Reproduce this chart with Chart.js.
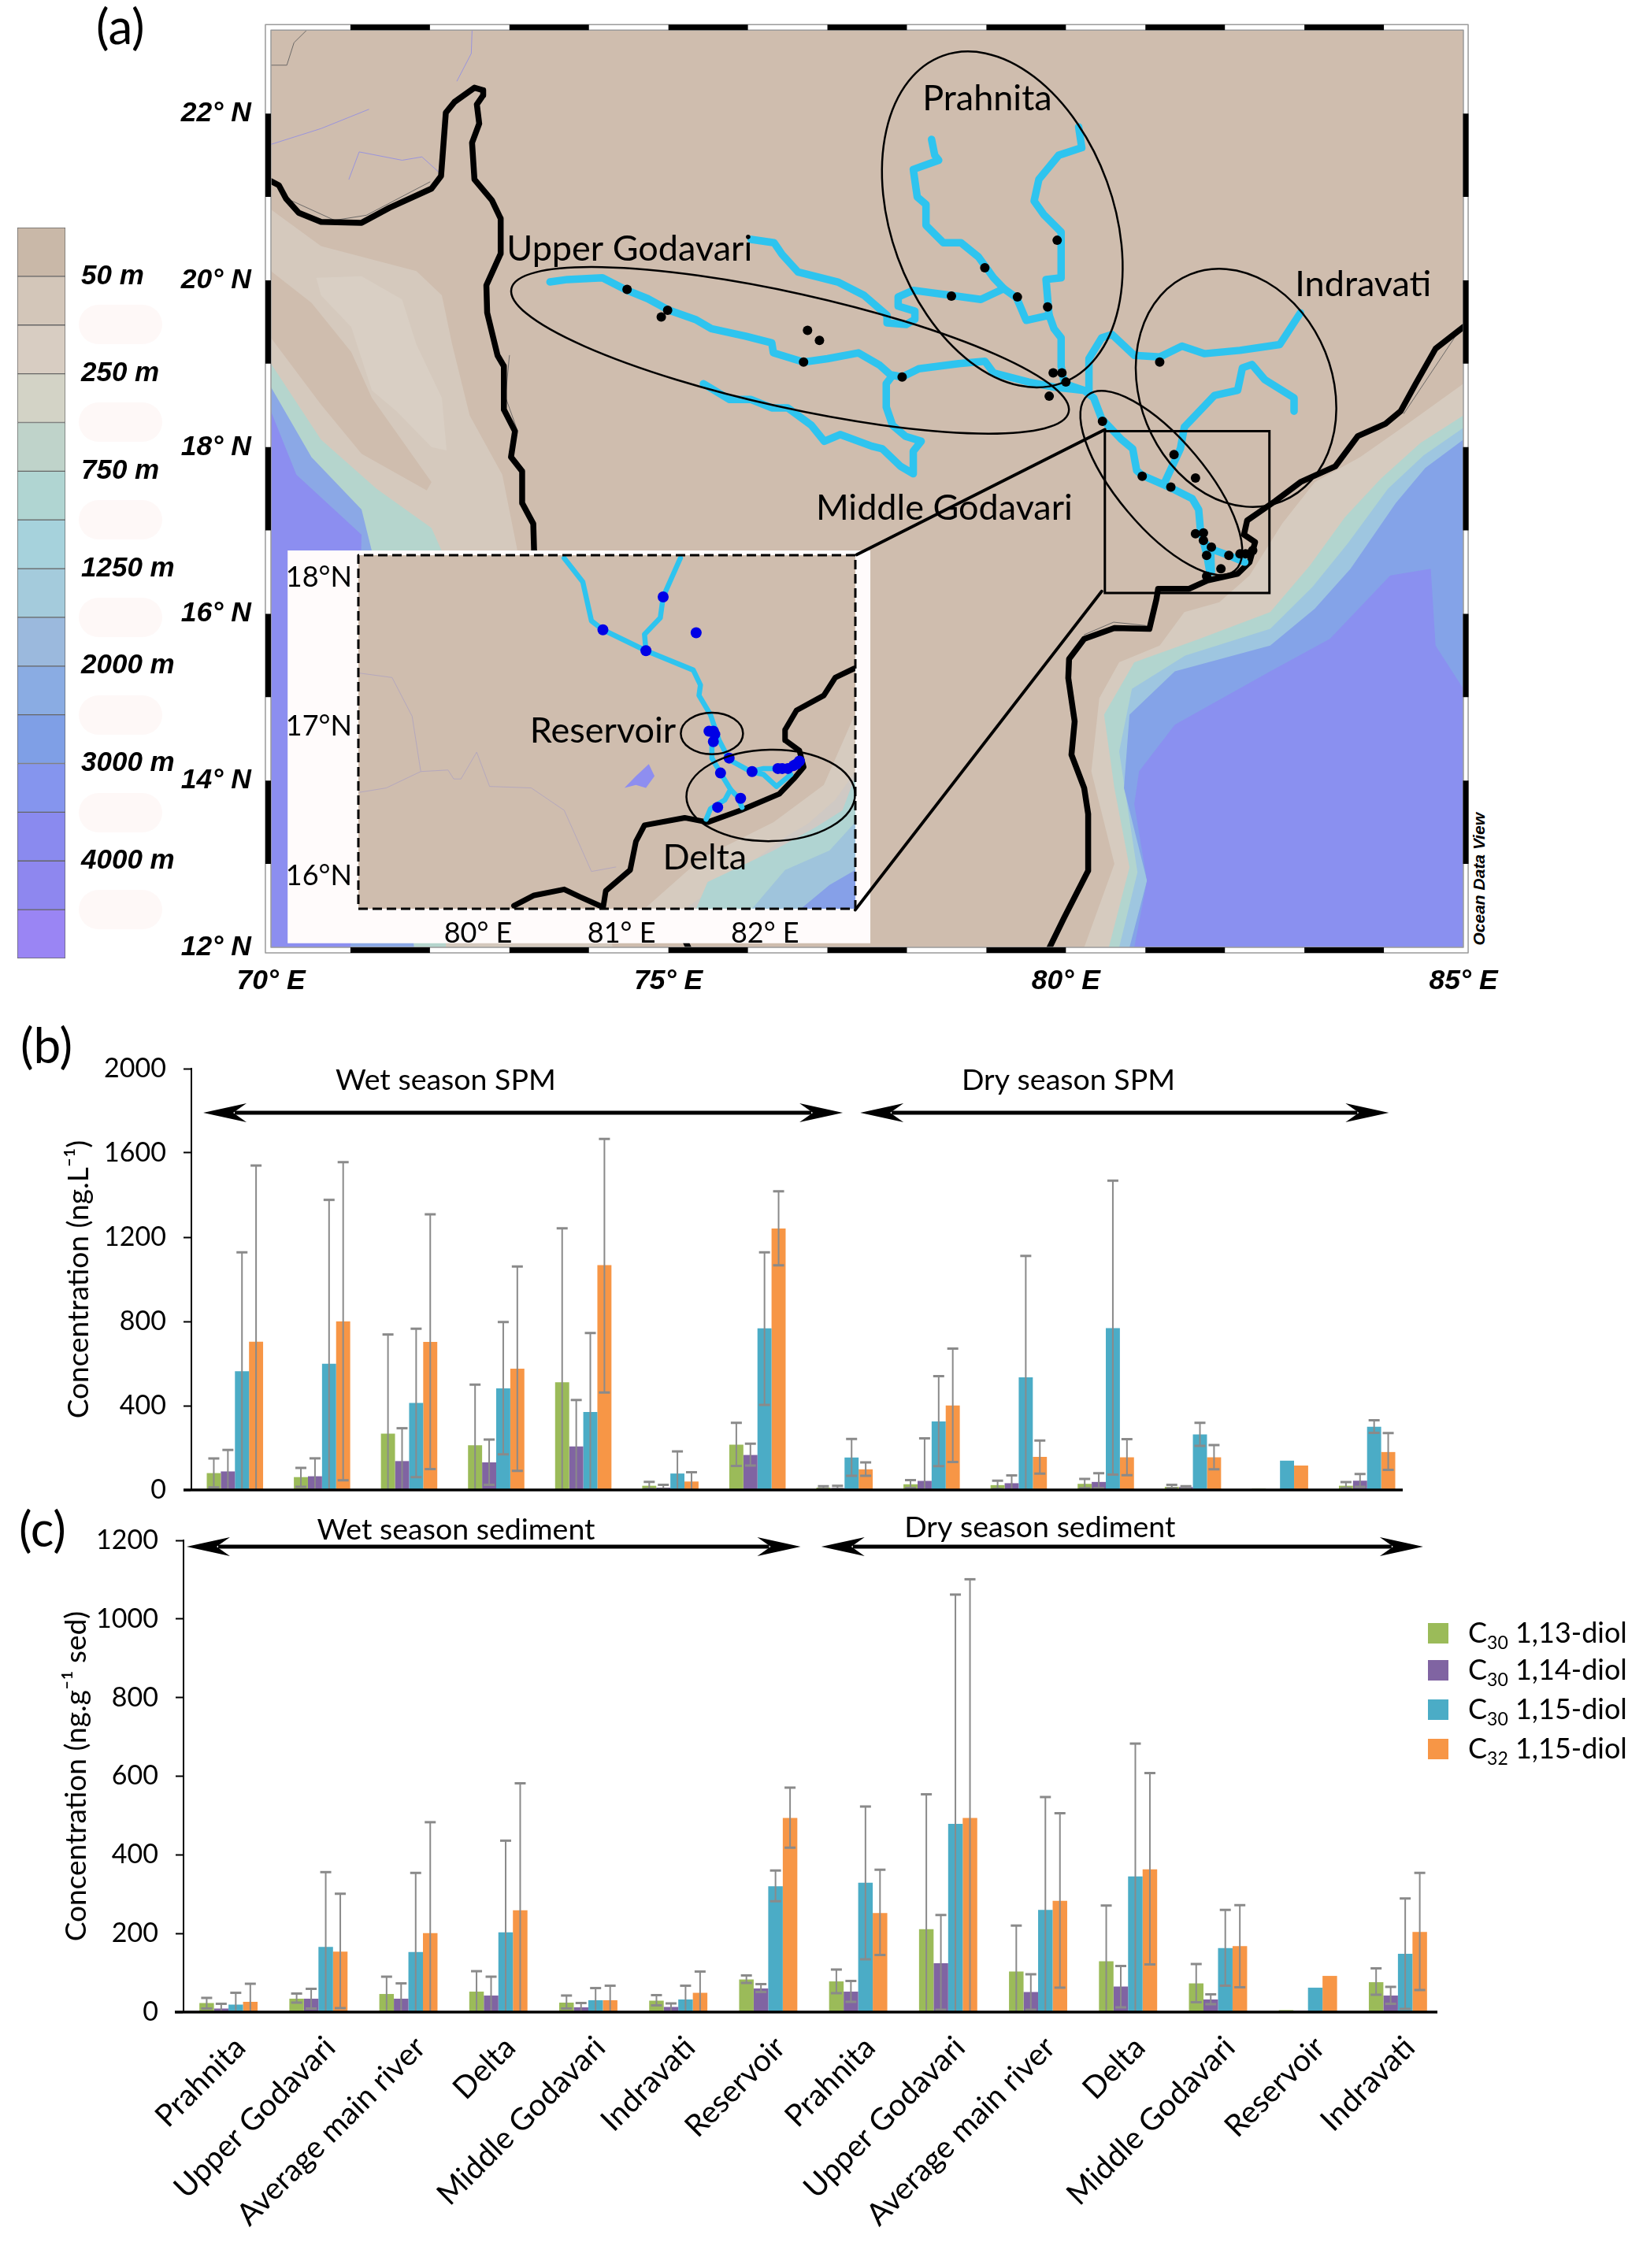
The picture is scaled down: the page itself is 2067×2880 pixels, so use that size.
<!DOCTYPE html>
<html>
<head>
<meta charset="utf-8">
<title>Diols in the Godavari basin</title>
<script src="https://cdn.jsdelivr.net/npm/chart.js@4/dist/chart.umd.min.js"></script>
<style>
  body { margin: 0; background: #fff; }
  #page { position: relative; width: 2067px; height: 2880px; overflow: hidden; font-family: Lato, sans-serif; color: #000; }
  #page canvas { position: absolute; }
  .panel { position: absolute; font-size: 62px; line-height: 62px; }
  .blob { position: absolute; left: 100px; width: 106px; height: 50px; border-radius: 25px; background: #fef8f7; }
  #odv { position: absolute; left: 1790px; top: 1101px; width: 175px; font: italic bold 21px "Liberation Sans", sans-serif; transform: rotate(-90deg); white-space: nowrap; text-align: left; }
  .leg { position: absolute; left: 1813px; white-space: nowrap; font-size: 36px; line-height: 44px; }
  .leg i { display: inline-block; width: 26px; height: 26px; margin-right: 25px; vertical-align: -1px; }
  .leg sub { font-size: 23px; line-height: 0; }
</style>
</head>
<body>
<div id="page">
  <div class="panel" style="left:122px;top:1px">(a)</div>
  <div class="panel" style="left:26px;top:1295px">(b)</div>
  <div class="panel" style="left:24px;top:1909px">(c)</div>
  <div id="odv">Ocean Data View</div>
  <canvas id="mapChart" width="2067" height="1290" style="left:0;top:0"></canvas>
  <canvas id="insetChart" width="740" height="560" style="left:365px;top:659px"></canvas>
  <canvas id="depthChart" width="250" height="1030" style="left:0;top:230px"></canvas>
  <canvas id="spmChart" width="2067" height="660" style="left:0;top:1290px"></canvas>
  <canvas id="sedChart" width="2067" height="980" style="left:0;top:1900px"></canvas>
</div>

<script>
/* ---------- bar data (b) and (c) ---------- */
const CATEGORIES = ['Prahnita', 'Upper Godavari', 'Average main river', 'Delta', 'Middle Godavari', 'Indravati', 'Reservoir',
                    'Prahnita', 'Upper Godavari', 'Average main river', 'Delta', 'Middle Godavari', 'Reservoir', 'Indravati'];

const SERIES_COLORS = ['#9bbb59', '#8064a2', '#4bacc6', '#f79646'];
const LEGEND_CARBON = ['30', '30', '30', '32'];
const LEGEND_DIOL = ['1,13-diol', '1,14-diol', '1,15-diol', '1,15-diol'];

// panel (b), SPM, ng/L
const spm13 = [80, 61, 267, 212, 511, 20, 215, 11, 27, 23, 29, 15, 6, 20];
const spm14 = [88, 65, 137, 131, 207, 11, 166, 9, 43, 32, 38, 14, 3, 44];
const spm15 = [564, 599, 413, 482, 370, 78, 767, 154, 325, 535, 768, 264, 139, 300];
const spm32 = [704, 800, 703, 576, 1067, 40, 1241, 98, 401, 157, 155, 155, 116, 180];
// whisker ends, null = no whisker / runs down to the axis
const spm13Hi = [150, 105, 738, 500, 1242, 38, 319, 18, 47, 44, 52, 24, null, 37];
const spm14Hi = [190, 150, 293, 239, 427, 24, 220, 20, 245, 69, 79, 18, null, 76];
const spm15Hi = [1128, 1377, 765, 797, 745, 183, 1128, 242, 540, 1111, 1468, 319, null, 331];
const spm32Hi = [1540, 1556, 1308, 1061, 1666, 84, 1418, 131, 671, 235, 241, 213, null, 270];
const spm13Lo = [12, 15, null, null, null, 5, 114, 5, 9, 5, 8, 8, null, 8];
const spm14Lo = [null, null, null, 24, null, 5, 116, 5, null, null, 8, 6, null, 15];
const spm15Lo = [null, null, 61, 169, null, null, 404, 67, 113, null, 73, 209, null, 271];
const spm32Lo = [null, 46, 99, 91, 463, null, 1066, 67, 133, 78, 70, 98, null, 95];

// panel (c), sediment, ng/g
const sed13 = [23, 34, 46, 52, 24, 29, 83, 78, 211, 103, 129, 73, 5, 76];
const sed14 = [9, 34, 34, 42, 12, 13, 60, 52, 124, 51, 65, 32, 3, 42];
const sed15 = [19, 166, 153, 203, 30, 32, 320, 329, 479, 260, 345, 163, 62, 148];
const sed32 = [26, 154, 201, 259, 30, 49, 494, 252, 494, 283, 363, 168, 92, 204];
const sed13Hi = [36, 47, 90, 104, 42, 43, 93, 108, 554, 220, 271, 122, null, 111];
const sed14Hi = [21, 59, 73, 90, 23, 22, 71, 79, 247, 96, 117, 45, null, 64];
const sed15Hi = [49, 356, 354, 436, 61, 67, 360, 523, 1062, 547, 683, 260, null, 289];
const sed32Hi = [72, 301, 483, 582, 67, 103, 571, 362, 1101, 506, 608, 272, null, 354];
const sed13Lo = [9, 24, null, null, 9, 17, 74, 48, null, null, null, 25, null, 44];
const sed14Lo = [null, 9, null, null, null, null, 51, 26, 6, 6, 12, 20, null, 21];
const sed15Lo = [null, null, null, null, null, null, 282, 134, null, null, null, 67, null, 8];
const sed32Lo = [null, 10, null, null, null, null, 418, 145, null, 62, 121, 63, null, 56];

/* ---------- depth key ---------- */
const DEPTH_COLORS = ['#c9b8a8', '#d3c6b9', '#d8cdc2', '#d3d3c6', '#bfd3ca', '#b0d5d2', '#a6d2dc', '#a4cbdc',
                      '#9bb9dd', '#8aace3', '#7f9fe6', '#8595ee', '#8a8aef', '#8e87ef', '#9a85f4'];
const DEPTH_LABELS = {1: '50 m', 3: '250 m', 5: '750 m', 7: '1250 m', 9: '2000 m', 11: '3000 m', 13: '4000 m'};

/* ---------- map shapes, all [lon, lat] ---------- */
const LAND = '#cfbdae';
const RIVER = '#2ec4ef';
const landBox = [[70, 12], [85, 12], [85, 23], [70, 23]];

// west coast shelf
const westBeige = [[70, 20.85], [70.63, 20.41], [71.83, 20.11], [72.15, 19.82], [72.28, 19.23], [72.5, 18.38], [72.91, 17.67], [73.1, 16.76], [74.3, 12], [70, 12]];
const westPatch = [[70, 20.11], [70.51, 19.73], [71.01, 19.14], [71.27, 18.59], [72.02, 17.58], [71.96, 17.48], [71.14, 17.92], [70.63, 18.51], [70, 19.31]];
const westLight = [[70.57, 20.03], [71.14, 20.05], [71.65, 19.77], [71.83, 19.23], [72.15, 18.59], [72.21, 17.96], [72.02, 18], [71.58, 18.43], [71.27, 18.68], [71.01, 19.44], [70.63, 19.82]];
const westTeal = [[70, 19], [70.63, 18.09], [71.33, 17.5], [72.02, 17.03], [72.15, 16.75], [72.2, 12], [70, 12]];
const westBlue = [[70, 18.72], [70.51, 17.88], [71.14, 17.25], [71.27, 16.75], [71.8, 12], [70, 12]];
const westDeep = [[70, 18.43], [70.32, 17.67], [71.14, 16.95], [71, 12], [70, 12]];

// east coast shelf
const eastBeige = [[85, 18.76], [84.27, 18.26], [83.7, 17.88], [83.13, 17.58], [82.72, 17.08], [82.31, 16.46], [81.93, 16.14], [81.49, 16.02], [81.18, 15.62], [80.67, 15.42], [80.42, 14.99], [80.32, 14.11], [80.61, 13], [80.23, 12], [85, 12]];
const eastTeal = [[85, 18.38], [84.46, 18.05], [83.96, 17.62], [83.51, 17.16], [83.07, 16.58], [82.57, 16.02], [81.68, 15.7], [80.86, 15.42], [80.48, 14.79], [80.61, 13.91], [80.8, 12.96], [80.54, 12], [85, 12]];
const eastSky = [[85, 18.23], [84.5, 17.9], [84.05, 17.5], [83.55, 16.85], [83.1, 16.32], [82.57, 15.82], [81.5, 15.5], [80.83, 15.1], [80.67, 14.35], [80.9, 12.9], [80.67, 12], [85, 12]];
const eastBlue = [[85, 18.09], [84.52, 17.75], [84.15, 17.33], [83.58, 16.54], [83.13, 16.06], [82.57, 15.62], [81.37, 15.31], [80.8, 14.79], [80.73, 13.91], [81.02, 12.8], [80.8, 12], [85, 12]];
const eastDeep = [[85, 15.1], [84.65, 15.62], [84.59, 16.54], [84.08, 16.46], [83.32, 15.7], [82.57, 15.31], [81.37, 14.67], [80.92, 14.11], [80.86, 13.72], [81.02, 12.8], [80.86, 12], [85, 12]];

const westCoast = [[70, 21.19], [70.1, 21.14], [70.19, 20.98], [70.35, 20.81], [70.63, 20.7], [71.14, 20.69], [71.49, 20.87], [72.02, 21.1], [72.14, 21.25], [72.2, 22.01], [72.31, 22.14], [72.56, 22.31], [72.67, 22.28], [72.67, 22.22], [72.59, 22.11], [72.62, 21.88], [72.53, 21.65], [72.56, 21.21], [72.78, 20.96], [72.89, 20.74], [72.89, 20.32], [72.71, 19.94], [72.72, 19.61], [72.85, 19.1], [72.93, 18.97], [72.93, 18.45], [73.07, 18.19], [73.02, 17.88], [73.16, 17.71], [73.16, 17.33], [73.3, 17.08], [73.31, 16.76], [74, 15], [75, 12.5], [75.25, 12]];
const eastCoast = [[85, 19.44], [84.65, 19.18], [84.4, 18.76], [84.21, 18.43], [84.02, 18.28], [83.67, 18.13], [83.39, 17.77], [82.95, 17.58], [82.63, 17.35], [82.28, 17.12], [82.24, 16.95], [82.38, 16.86], [82.31, 16.62], [82.16, 16.48], [81.78, 16.4], [81.55, 16.3], [81.16, 16.3], [81.14, 16.18], [81.05, 15.82], [80.61, 15.83], [80.23, 15.7], [80.04, 15.46], [80.03, 15.23], [80.11, 14.71], [80.07, 14.31], [80.23, 13.91], [80.28, 13.6], [80.28, 12.92], [79.98, 12.36], [79.79, 11.99]];

// faint channels in the north west
const thinRivers = [
  [[72.53, 23], [72.52, 22.72], [72.34, 22.39]],
  [[70, 21.63], [70.63, 21.82], [71.23, 22.05]],
  [[70.98, 21.21], [71.11, 21.54], [71.65, 21.44], [71.9, 21.48], [72.12, 21.29]]
];
const thinBorders = [
  [[70, 22.58], [70.2, 22.58], [70.29, 22.85], [70.45, 23]],
  [[70.2, 20.98], [70.8, 20.72], [71.2, 20.78], [72.0, 21.18]],
  [[73, 19.1], [72.95, 18.6], [73.1, 18.2]],
  [[80.23, 15.75], [80.6, 15.9], [81, 15.86]],
  [[84.25, 18.4], [84.95, 19.4]]
];

const mainRiver = [[73.51, 19.98], [73.73, 20.01], [74.17, 20.03], [74.48, 19.88], [74.74, 19.78], [75.01, 19.64], [75.34, 19.53], [75.54, 19.42], [75.97, 19.33], [76.3, 19.25], [76.32, 19.13], [76.7, 19.02], [77, 19.06], [77.39, 19.13], [77.66, 18.98], [77.79, 18.87], [77.94, 18.84], [78.15, 18.94], [78.65, 19], [78.98, 19.03], [79.09, 18.89], [79.53, 18.78], [79.85, 18.72], [80.23, 18.68], [80.35, 18.59], [80.45, 18.34], [80.7, 18.09], [80.84, 17.98], [80.89, 17.72], [80.96, 17.66], [81.3, 17.52], [81.59, 17.38], [81.67, 17.25], [81.69, 17.03], [81.73, 16.87], [81.82, 16.78], [81.83, 16.5]];
const deltaEast = [[81.82, 16.78], [82.05, 16.7], [82.25, 16.62]];
const deltaMid = [[81.73, 16.87], [81.77, 16.72], [81.81, 16.5]];
const southLoop = [[75.44, 18.76], [75.77, 18.57], [76.04, 18.57], [76.3, 18.47], [76.5, 18.47], [76.8, 18.26], [76.96, 18.07], [77.16, 18.15], [77.56, 18.01], [77.69, 17.98], [77.92, 17.77], [78.08, 17.68], [78.08, 17.95], [78.18, 18.07], [77.98, 18.13], [77.82, 18.26], [77.74, 18.48], [77.74, 18.76], [77.82, 18.86], [77.94, 18.84]];
const northLoop = [[76.04, 20.49], [76.33, 20.45], [76.43, 20.31], [76.63, 20.1], [77.13, 19.98], [77.46, 19.82], [77.75, 19.58], [77.75, 19.49], [77.99, 19.47], [78.1, 19.53], [78.1, 19.63], [77.89, 19.69], [77.89, 19.8], [78.08, 19.88], [78.55, 19.82], [78.93, 19.77], [79.22, 19.9], [79.38, 19.79], [79.5, 19.52], [79.79, 19.58], [79.85, 19.42], [79.94, 19.31], [79.94, 18.97], [79.98, 18.76], [80.23, 18.68]];
const prahnitaWest = [[78.31, 21.69], [78.35, 21.5], [78.4, 21.44], [78.08, 21.33], [78.13, 21], [78.24, 20.91], [78.24, 20.66], [78.46, 20.45], [78.68, 20.45], [78.9, 20.28], [79.09, 20.03], [79.22, 19.9]];
const prahnitaEast = [[80.16, 21.84], [80.2, 21.59], [79.91, 21.5], [79.66, 21.21], [79.6, 20.95], [79.72, 20.79], [79.94, 20.58], [79.94, 20.03], [79.75, 20.01], [79.79, 19.56]];
const indravati = [[82.95, 19.61], [82.69, 19.23], [82.19, 19.16], [81.74, 19.12], [81.46, 19.21], [81.18, 19.08], [80.86, 19.1], [80.58, 19.35], [80.45, 19.31], [80.29, 19.06], [80.29, 18.68]];
const sabari = [[82.87, 18.43], [82.87, 18.59], [82.5, 18.81], [82.34, 18.99], [82.22, 18.95], [82.16, 18.68], [81.87, 18.62], [81.49, 18.24], [81.44, 17.98], [81.24, 17.57]];

const stations = [[74.48, 19.89], [74.99, 19.64], [74.91, 19.56], [76.75, 19.4], [76.9, 19.28], [76.7, 19.02], [77.94, 18.84], [79.89, 20.48], [78.98, 20.15], [78.56, 19.81], [79.39, 19.8], [79.77, 19.68], [79.84, 18.89], [79.95, 18.89], [80, 18.78], [79.79, 18.61], [81.18, 19.02], [80.46, 18.31], [81.36, 17.91], [80.96, 17.65], [81.63, 17.63], [81.32, 17.52], [81.63, 16.96], [81.73, 16.97], [81.73, 16.88], [81.83, 16.8], [81.77, 16.7], [82.05, 16.7], [81.95, 16.54], [81.77, 16.45], [82.19, 16.72], [82.26, 16.72], [82.31, 16.72], [82.35, 16.76]];

const whiteBox = [[70.21, 16.76], [77.54, 16.76], [77.54, 12.05], [70.21, 12.05]];
const zoomBox = [[80.49, 18.19], [82.56, 18.19], [82.56, 16.25], [80.49, 16.25], [80.49, 18.19]];
const leaderTop = [[80.49, 18.21], [77.37, 16.71]];
const leaderBottom = [[80.45, 16.27], [77.35, 12.45]];

// edges of the checkered frame: black runs
const stripLon = [[71, 72], [73, 74], [75, 76], [77, 78], [79, 80], [81, 82], [83, 84]];
const stripLat = [[22, 21], [20, 19], [18, 17], [16, 15], [14, 13]];

const mapEllipses = [
  {lon: 79.2, lat: 20.73, a: 2.19, b: 1.4, rot: 70},
  {lon: 76.53, lat: 19.16, a: 3.59, b: 0.72, rot: 12.5},
  {lon: 82.14, lat: 18.71, a: 1.54, b: 1.21, rot: 68},
  {lon: 81.2, lat: 17.57, a: 1.44, b: 0.555, rot: 50}
];
const mapLabels = [
  {text: 'Upper Godavari', lon: 74.51, lat: 20.37},
  {text: 'Prahnita', lon: 79.01, lat: 22.18},
  {text: 'Indravati', lon: 83.74, lat: 19.95},
  {text: 'Middle Godavari', lon: 78.47, lat: 17.27}
];

/* ---------- inset shapes, [lon, lat] ---------- */
const insetBox = [[79.165, 15.78], [82.63, 15.78], [82.63, 18.15], [79.165, 18.15]];
const insetFrame = [[79.165, 15.78], [82.63, 15.78], [82.63, 18.15], [79.165, 18.15], [79.165, 15.78]];
const insetBeige = [[82.63, 17.09], [82.41, 16.61], [82.06, 16.36], [81.56, 16.12], [81.16, 15.78], [82.63, 15.78]];
const insetGrey = [[82.63, 16.7], [82.49, 16.51], [82.3, 16.35], [82.14, 16.26], [81.85, 16.05], [81.44, 15.78], [82.63, 15.78]];
const insetTeal = [[82.63, 16.67], [82.54, 16.44], [82.36, 16.33], [82.06, 16.17], [81.6, 15.96], [81.52, 15.78], [82.63, 15.78]];
const insetSky = [[82.63, 16.36], [82.45, 16.17], [82.14, 16.04], [81.91, 15.78], [82.63, 15.78]];
const insetDeep = [[82.63, 16.04], [82.45, 15.94], [82.25, 15.78], [82.63, 15.78]];
const insetCoastA = [[82.62, 17.39], [82.49, 17.33], [82.41, 17.21], [82.22, 17.11], [82.14, 16.98], [82.14, 16.91], [82.24, 16.84], [82.27, 16.73], [82.2, 16.65], [82.1, 16.55], [81.83, 16.44], [81.6, 16.36], [81.44, 16.39], [81.16, 16.34], [81.1, 16.23], [81.06, 16.04], [80.89, 15.9], [80.87, 15.78]];
const insetCoastB = [[80.85, 15.8], [80.71, 15.86], [80.6, 15.91], [80.39, 15.87], [80.25, 15.8]];
const insetThinA = [[79.17, 17.36], [79.4, 17.33], [79.54, 17.07], [79.6, 16.7], [79.36, 16.59], [79.17, 16.56]];
const insetThinB = [[79.6, 16.7], [79.79, 16.71], [79.83, 16.65], [79.88, 16.65], [79.99, 16.83], [80.08, 16.6], [80.37, 16.59], [80.6, 16.44], [80.67, 16.29], [80.79, 16.03], [80.96, 16.06]];
const insetLake = [[81.02, 16.59], [81.1, 16.67], [81.19, 16.75], [81.23, 16.67], [81.17, 16.59], [81.1, 16.61]];
const insetRiverA = [[80.6, 18.13], [80.73, 17.97], [80.79, 17.71], [80.87, 17.65], [81.17, 17.51], [81.5, 17.38], [81.55, 17.28], [81.54, 17.21], [81.62, 17.08], [81.68, 16.91], [81.75, 16.78], [81.9, 16.7], [81.99, 16.72], [82.1, 16.72]];
const insetRiverB = [[81.41, 18.13], [81.29, 17.87], [81.27, 17.73], [81.16, 17.62], [81.17, 17.51]];
const insetRiverC = [[81.63, 16.9], [81.63, 16.79], [81.69, 16.69], [81.76, 16.58], [81.72, 16.51], [81.62, 16.45], [81.59, 16.38]];
const insetRiverD = [[81.76, 16.58], [81.81, 16.53], [81.84, 16.46]];
const insetRiverE = [[81.9, 16.7], [81.99, 16.68], [82.08, 16.6], [82.18, 16.68]];
const insetStations = [[81.29, 17.87], [80.87, 17.65], [81.52, 17.63], [81.17, 17.51], [81.61, 16.97], [81.64, 16.97], [81.65, 16.95], [81.64, 16.9], [81.75, 16.79], [81.69, 16.69], [81.91, 16.7], [81.83, 16.52], [81.67, 16.46], [82.09, 16.72], [82.12, 16.72], [82.16, 16.72], [82.2, 16.74], [82.22, 16.75], [82.24, 16.77]];
const insetEllipses = [
  {lon: 81.63, lat: 16.955, a: 0.217, b: 0.145, rot: 0},
  {lon: 82.04, lat: 16.54, a: 0.588, b: 0.319, rot: -1}
];
const insetLabels = [
  {text: 'Reservoir', lon: 80.87, lat: 16.97},
  {text: 'Delta', lon: 81.58, lat: 16.12}
];

/* ---------- season arrows and captions, in axis units ---------- */
const spmArrows = [{from: -0.364, to: 6.98, y: 1791}, {from: 7.18, to: 13.25, y: 1791}];
const spmCaptions = [{text: 'Wet season SPM', x: 2.42, y: 1944}, {text: 'Dry season SPM', x: 9.57, y: 1944}];
const sedArrows = [{from: -0.465, to: 6.36, y: 1184}, {from: 6.59, to: 13.28, y: 1184}];
const sedCaptions = [{text: 'Wet season sediment', x: 2.53, y: 1226}, {text: 'Dry season sediment', x: 9.02, y: 1232}];

Chart.defaults.font.family = 'Lato, sans-serif';
Chart.defaults.color = '#000';
Chart.defaults.animation = false;
Chart.defaults.responsive = false;
Chart.defaults.plugins.legend.display = false;
Chart.defaults.plugins.tooltip.enabled = false;

const toXY = list => list.map(p => ({x: p[0], y: p[1]}));

function polygon(points, color) {
  return {data: toXY(points), showLine: true, fill: 'shape', backgroundColor: color, borderWidth: 0, pointRadius: 0, tension: 0};
}
function path(points, color, width, extra) {
  return Object.assign({data: toXY(points), showLine: true, fill: false, borderColor: color, borderWidth: width,
    pointRadius: 0, tension: 0, borderCapStyle: 'round', borderJoinStyle: 'round'}, extra || {});
}
function dots(points, color, radius) {
  return {data: toXY(points), showLine: false, pointRadius: radius, pointBackgroundColor: color, pointBorderWidth: 0};
}
// black runs along one frame edge, gaps between runs
function strip(runs, isLon, fixed, width) {
  const data = [];
  runs.forEach(r => {
    r.forEach(v => data.push(isLon ? {x: v, y: fixed} : {x: fixed, y: v}));
    data.push({x: NaN, y: NaN});
  });
  return {data: data, showLine: true, fill: false, borderColor: '#000', borderWidth: width, pointRadius: 0, clip: false, spanGaps: false};
}

// ellipses and place names go on top of the map
function mapMarks(ellipses, labels, fontSize) {
  return {
    id: 'mapMarks',
    afterDatasetsDraw(chart) {
      const ctx = chart.ctx, xs = chart.scales.x, ys = chart.scales.y;
      ctx.save();
      ctx.strokeStyle = '#000';
      ctx.lineWidth = 2.5;
      ellipses.forEach(e => {
        const px = xs.getPixelForValue(e.lon), py = ys.getPixelForValue(e.lat);
        const perDeg = xs.getPixelForValue(e.lon + 1) - px;
        ctx.beginPath();
        ctx.ellipse(px, py, e.a * perDeg, e.b * perDeg, e.rot * Math.PI / 180, 0, Math.PI * 2);
        ctx.stroke();
      });
      ctx.fillStyle = '#000';
      ctx.font = fontSize + 'px Lato, sans-serif';
      ctx.textAlign = 'center';
      ctx.textBaseline = 'middle';
      labels.forEach(l => ctx.fillText(l.text, xs.getPixelForValue(l.lon), ys.getPixelForValue(l.lat)));
      ctx.restore();
    }
  };
}

/* ---------- panel (a) ---------- */
const mapLayers = [
  polygon(landBox, LAND),
  polygon(westBeige, '#d5c9bd'),
  polygon(westPatch, LAND),
  polygon(westLight, '#d9cfc4'),
  polygon(westTeal, '#b5d5cd'),
  polygon(westBlue, '#8ba8e6'),
  polygon(westDeep, '#8c8ef0'),
  polygon(eastBeige, '#d6cbbf'),
  polygon(eastTeal, '#b2d5cf'),
  polygon(eastSky, '#9ec6e0'),
  polygon(eastBlue, '#84a3e8'),
  polygon(eastDeep, '#8a90f0')
];
thinRivers.forEach(r => mapLayers.push(path(r, '#9a94dc', 1)));
thinBorders.forEach(r => mapLayers.push(path(r, '#6d6a68', 1)));
mapLayers.push(path(westCoast, '#000', 7.5), path(eastCoast, '#000', 7.5));
[mainRiver, deltaEast, deltaMid, southLoop, northLoop, prahnitaWest, prahnitaEast, indravati, sabari].forEach(r => {
  mapLayers.push(path(r, RIVER, 9.5));
});
mapLayers.push(dots(stations, '#000', 6));
mapLayers.push(polygon(whiteBox, '#fffbfb'));
mapLayers.push(path(zoomBox, '#000', 3, {borderCapStyle: 'butt', borderJoinStyle: 'miter'}));
mapLayers.push(path(leaderTop, '#000', 4), path(leaderBottom, '#000', 4));
// frame with its black and white strips
mapLayers.push(path([[70, 12], [85, 12], [85, 23], [70, 23], [70, 12]], '#9a9a9a', 1.5, {clip: false}));
mapLayers.push(path([[69.93, 11.934], [85.06, 11.934], [85.06, 23.066], [69.93, 23.066], [69.93, 11.934]], '#9a9a9a', 1.5, {clip: false}));
mapLayers.push(strip(stripLon, true, 23.033, 7), strip(stripLon, true, 11.967, 7));
mapLayers.push(strip(stripLat, false, 69.965, 7), strip(stripLat, false, 85.03, 7));

const mapTickFont = {family: 'Liberation Sans', size: 35.5, style: 'italic', weight: 'bold'};

new Chart(document.getElementById('mapChart'), {
  type: 'scatter',
  data: {datasets: mapLayers.slice().reverse()},   // first dataset is painted last
  options: {
    layout: {padding: {left: 224, right: 209, top: 38, bottom: 27}},
    scales: {
      x: {
        type: 'linear', min: 70, max: 85,
        grid: {display: false}, border: {display: false},
        ticks: {stepSize: 5, autoSkip: false, maxRotation: 0, padding: 14, font: mapTickFont, callback: v => v + '° E'},
        afterFit: s => { s.height = 60; }
      },
      y: {
        type: 'linear', min: 12, max: 23,
        grid: {display: false}, border: {display: false},
        ticks: {stepSize: 2, includeBounds: false, autoSkip: false, padding: 17, font: mapTickFont, callback: v => v + '° N'},
        afterFit: s => { s.width = 120; }
      }
    }
  },
  plugins: [mapMarks(mapEllipses, mapLabels, 45)]
});

/* ---------- inset ---------- */
const insetLayers = [
  polygon(insetBox, LAND),
  polygon(insetBeige, '#d6cbbf'),
  polygon(insetGrey, '#cfc9c4'),
  polygon(insetTeal, '#b0d4d2'),
  polygon(insetSky, '#9fc4dc'),
  polygon(insetDeep, '#86a0e8'),
  path(insetThinA, '#b5a8bd', 1),
  path(insetThinB, '#b5a8bd', 1),
  polygon(insetLake, '#8e8ef0'),
  path(insetCoastA, '#000', 7),
  path(insetCoastB, '#000', 7),
  path(insetRiverA, RIVER, 6.5),
  path(insetRiverB, RIVER, 6.5),
  path(insetRiverC, RIVER, 6.5),
  path(insetRiverD, RIVER, 6.5),
  path(insetRiverE, RIVER, 6.5),
  dots(insetStations, '#0000e6', 7),
  path(insetFrame, '#000', 3, {clip: false, borderDash: [12, 6], borderCapStyle: 'butt'})
];

new Chart(document.getElementById('insetChart'), {
  type: 'scatter',
  data: {datasets: insetLayers.slice().reverse()},
  options: {
    layout: {padding: {left: 0, right: 19, top: 46, bottom: 15}},
    scales: {
      x: {
        type: 'linear', min: 79.165, max: 82.63,
        grid: {display: false}, border: {display: false},
        ticks: {stepSize: 1, includeBounds: false, autoSkip: false, maxRotation: 0, padding: 2, font: {size: 36}, callback: v => v + '° E'},
        afterFit: s => { s.height = 50; }
      },
      y: {
        type: 'linear', min: 15.78, max: 18.15,
        grid: {display: false}, border: {display: false},
        ticks: {stepSize: 1, includeBounds: false, autoSkip: false, padding: 0, font: {size: 36}, callback: v => v + '°N'},
        afterFit: s => { s.width = 90; }
      }
    }
  },
  plugins: [mapMarks(insetEllipses, insetLabels, 45)]
});

/* ---------- depth key, one stacked bar ---------- */
new Chart(document.getElementById('depthChart'), {
  type: 'bar',
  data: {
    labels: ['depth'],
    datasets: DEPTH_COLORS.map(c => ({
      data: [1], backgroundColor: c, borderColor: '#666', borderWidth: 1, borderSkipped: false,
      barPercentage: 1, categoryPercentage: 1
    }))
  },
  options: {
    layout: {padding: {left: 22, right: 0, top: 59, bottom: 43}},
    scales: {
      x: {display: false, stacked: true},
      y: {
        position: 'right', stacked: true, reverse: true, min: 0, max: 15,
        grid: {display: false}, border: {display: false},
        ticks: {stepSize: 1, autoSkip: false, padding: 12, font: {family: 'Liberation Sans', size: 35, style: 'italic', weight: 'bold'}, callback: v => DEPTH_LABELS[v] || ''},
        afterFit: s => { s.width = 167; }
      }
    }
  }
});

// pale smudges where every second depth label was wiped
[412, 536, 660, 784, 908, 1032, 1155].forEach(y => {
  const d = document.createElement('div');
  d.className = 'blob';
  d.style.top = (y - 25) + 'px';
  document.getElementById('page').appendChild(d);
});

/* ---------- panels (b) and (c) ---------- */
function whiskers(hiSets, loSets) {
  return {
    id: 'whiskers',
    afterDatasetsDraw(chart) {
      const ctx = chart.ctx, ys = chart.scales.y;
      ctx.save();
      ctx.strokeStyle = '#8a8a8a';
      hiSets.forEach((hi, s) => {
        const bars = chart.getDatasetMeta(s).data;
        hi.forEach((h, i) => {
          if (h === null) return;
          const x = bars[i].x, lo = loSets[s][i];
          ctx.lineWidth = 2;
          ctx.beginPath();
          ctx.moveTo(x, ys.getPixelForValue(h));
          ctx.lineTo(x, ys.getPixelForValue(lo === null ? 0 : lo));
          ctx.stroke();
          ctx.lineWidth = 3;
          ctx.beginPath();
          ctx.moveTo(x - 7, ys.getPixelForValue(h));
          ctx.lineTo(x + 7, ys.getPixelForValue(h));
          if (lo !== null) {
            ctx.moveTo(x - 7, ys.getPixelForValue(lo));
            ctx.lineTo(x + 7, ys.getPixelForValue(lo));
          }
          ctx.stroke();
        });
      });
      ctx.restore();
    }
  };
}

function seasonMarks(arrows, captions, axisLeft, axisRight) {
  function head(ctx, tip, y, dir) {
    ctx.beginPath();
    ctx.moveTo(tip, y);
    ctx.lineTo(tip + dir * 55, y - 12);
    ctx.lineTo(tip + dir * 38, y);
    ctx.lineTo(tip + dir * 55, y + 12);
    ctx.closePath();
    ctx.fill();
  }
  return {
    id: 'seasonMarks',
    afterDatasetsDraw(chart) {
      const ctx = chart.ctx, xs = chart.scales.x, ys = chart.scales.y, area = chart.chartArea;
      ctx.save();
      ctx.fillStyle = '#000';
      ctx.strokeStyle = '#000';
      // x axis line sits a little left of the plot in the original
      ctx.lineWidth = 3.5;
      ctx.beginPath();
      ctx.moveTo(area.left - axisLeft, area.bottom);
      ctx.lineTo(area.right - axisRight, area.bottom);
      ctx.stroke();

      arrows.forEach(a => {
        const x0 = xs.getPixelForValue(a.from), x1 = xs.getPixelForValue(a.to), y = ys.getPixelForValue(a.y);
        ctx.lineWidth = 5;
        ctx.beginPath();
        ctx.moveTo(x0 + 40, y);
        ctx.lineTo(x1 - 40, y);
        ctx.stroke();
        head(ctx, x0, y, 1);
        head(ctx, x1, y, -1);
      });
      ctx.font = '37.5px Lato, sans-serif';
      ctx.textAlign = 'center';
      ctx.textBaseline = 'middle';
      captions.forEach(c => ctx.fillText(c.text, xs.getPixelForValue(c.x), ys.getPixelForValue(c.y)));
      ctx.restore();
    }
  };
}

function barSets(a, b, c, d) {
  return [a, b, c, d].map((vals, i) => ({
    data: vals, backgroundColor: SERIES_COLORS[i], barPercentage: 1, categoryPercentage: 0.647
  }));
}

const yAxisBase = {
  grid: {drawOnChartArea: false, drawTicks: true, tickLength: 10, tickWidth: 2, tickColor: '#000'},
  border: {display: true, color: '#000', width: 2}
};
const barTickFont = {family: '"Liberation Sans Narrow", Lato, sans-serif', size: 34};

new Chart(document.getElementById('spmChart'), {
  type: 'bar',
  data: {labels: CATEGORIES, datasets: barSets(spm13, spm14, spm15, spm32)},
  options: {
    layout: {padding: {left: 78, right: 276, top: 67, bottom: 58}},
    scales: {
      x: {display: false},
      y: Object.assign({}, yAxisBase, {
        min: 0, max: 2000,
        ticks: {stepSize: 400, padding: 22, font: barTickFont, callback: v => String(v)},
        title: {display: true, text: 'Concentration (ng.L⁻¹)', font: {size: 37}, padding: 0},
        afterFit: s => { s.width = 165; }
      })
    }
  },
  plugins: [
    whiskers([spm13Hi, spm14Hi, spm15Hi, spm32Hi], [spm13Lo, spm14Lo, spm15Lo, spm32Lo]),
    seasonMarks(spmArrows, spmCaptions, 10, 10)
  ]
});

new Chart(document.getElementById('sedChart'), {
  type: 'bar',
  data: {labels: CATEGORIES, datasets: barSets(sed13, sed14, sed15, sed32)},
  options: {
    layout: {padding: {left: 75, right: 235, top: 56, bottom: 5}},
    scales: {
      x: {
        grid: {display: false}, border: {display: false},
        ticks: {autoSkip: false, minRotation: 45, maxRotation: 45, padding: 14, labelOffset: 15, font: {size: 39}},
        afterFit: s => { s.height = 320; }
      },
      y: Object.assign({}, yAxisBase, {
        min: 0, max: 1200,
        ticks: {stepSize: 200, padding: 22, font: barTickFont, callback: v => String(v)},
        title: {display: true, text: 'Concentration (ng.g⁻¹ sed)', font: {size: 37}, padding: 0},
        afterFit: s => { s.width = 158; }
      })
    }
  },
  plugins: [
    whiskers([sed13Hi, sed14Hi, sed15Hi, sed32Hi], [sed13Lo, sed14Lo, sed15Lo, sed32Lo]),
    seasonMarks(sedArrows, sedCaptions, 11, 7)
  ]
});

// legend needs real subscripts, so it is plain html
const legendTops = [2050, 2097, 2147, 2197];
LEGEND_DIOL.forEach((name, i) => {
  const row = document.createElement('div');
  row.className = 'leg';
  row.style.top = legendTops[i] + 'px';
  row.innerHTML = `<i style="background:${SERIES_COLORS[i]}"></i>C<sub>${LEGEND_CARBON[i]}</sub> ${name}`;
  document.getElementById('page').appendChild(row);
});
</script>
</body>
</html>
